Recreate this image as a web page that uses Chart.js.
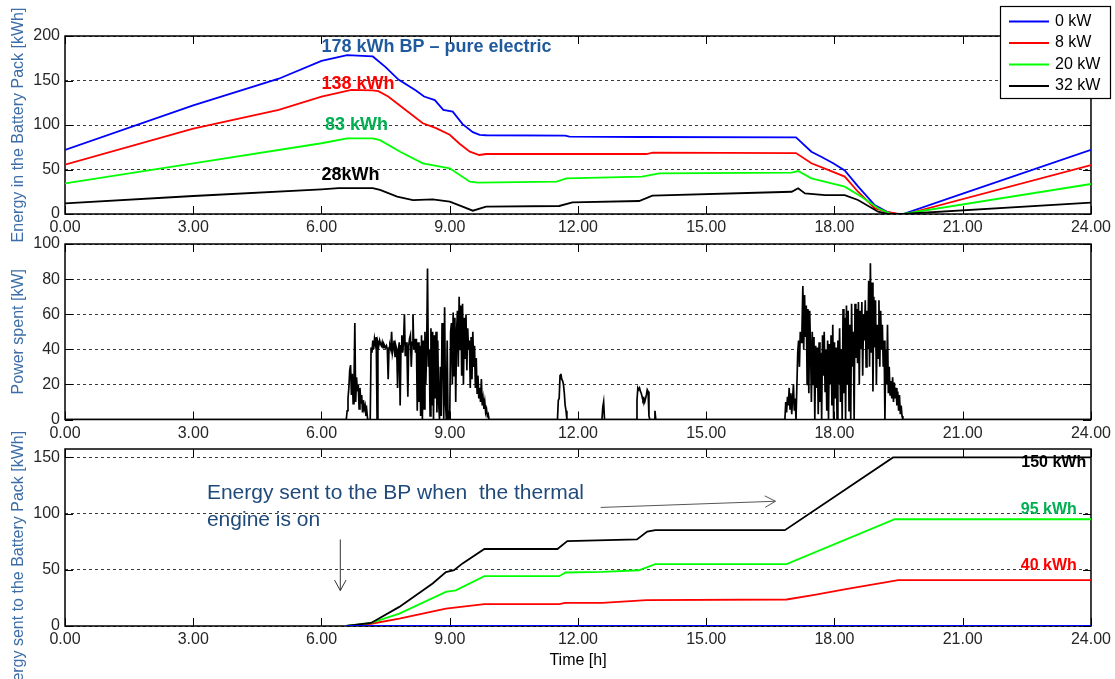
<!DOCTYPE html>
<html>
<head>
<meta charset="utf-8">
<script src="https://cdn.jsdelivr.net/npm/chart.js@4.4.1/dist/chart.umd.min.js"></script>
<style>
html, body { margin: 0; padding: 0; background: #ffffff; }
#wrap { position: relative; width: 1115px; height: 679px; overflow: hidden; background: #ffffff; }
#wrap canvas { position: absolute; left: 0; top: 0; }
</style>
</head>
<body>
<div id="wrap">
  <canvas id="c1" width="1115" height="679"></canvas>
  <canvas id="c2" width="1115" height="679"></canvas>
  <canvas id="c3" width="1115" height="679"></canvas>
</div>
<script>
// ---------------- DATA ----------------
const xTickValues = [0, 3, 6, 9, 12, 15, 18, 21, 24];
const xTickLabels = ['0.00', '3.00', '6.00', '9.00', '12.00', '15.00', '18.00', '21.00', '24.00'];
const yTicksEnergy = [0, 50, 100, 150, 200];
const yTicksPower = [0, 20, 40, 60, 80, 100];
const yTicksSent = [0, 50, 100, 150];

const seriesNames = ['0 kW', '8 kW', '20 kW', '32 kW'];

// Panel 1: energy in the battery pack [kWh]
const bpTime0 = [0, 3, 5, 6, 6.6, 7.2, 7.5, 7.8, 8.2, 8.4, 8.65, 8.85, 9.07, 9.3, 9.54, 9.7, 9.85, 11.7, 11.8, 13.5, 17.1, 17.46, 17.7, 17.97, 18.24, 18.55, 18.94, 19.25, 19.45, 19.64, 21, 24];
const bp0kW   = [72, 122, 152, 172, 178.5, 177, 165, 151, 139, 132, 128, 117, 115, 101, 92, 89, 88.5, 88, 87, 86.5, 86, 70, 64, 57, 49, 31, 10, 2, 0, 0.5, 23, 72];

const bpTime8 = [0, 3, 5, 6, 6.7, 7.2, 7.33, 7.56, 7.87, 8.37, 8.68, 9.0, 9.23, 9.47, 9.69, 9.85, 13.6, 13.75, 17.1, 17.46, 17.85, 18.24, 18.55, 18.94, 19.25, 19.5, 19.68, 24];
const bp8kW   = [55.5, 96, 117, 132, 139.5, 139, 138, 132, 120.5, 102, 96.5, 89, 79, 70, 66.3, 67.4, 67.4, 68.9, 68.5, 57, 49.5, 42, 25, 6.6, 2, 0, 0, 55];

const bpTime20 = [0, 3, 6, 6.6, 7.2, 7.37, 7.84, 8.37, 9.0, 9.47, 9.66, 11.5, 11.73, 13.5, 13.9, 17.0, 17.15, 17.46, 18.24, 18.63, 19.02, 19.33, 19.6, 24];
const bp20kW   = [34.5, 57, 79.5, 85, 85, 83, 70, 57, 51.3, 36.3, 35.2, 36.3, 40, 42, 45.7, 46.4, 48.3, 40, 30.7, 19.4, 6.4, 0, 0, 33.7];

const bpTime32 = [0, 3, 6, 6.4, 7.2, 7.37, 7.77, 8.14, 8.6, 9.0, 9.3, 9.54, 9.85, 11.56, 11.87, 13.43, 13.74, 17.0, 17.15, 17.31, 17.78, 18.24, 18.55, 19.02, 19.25, 19.6, 24];
const bp32kW   = [12, 20.2, 27.7, 29, 29, 27, 19.5, 15.7, 16.4, 13.8, 8.2, 3.7, 8.2, 9, 13.1, 14.6, 20.6, 25, 28.9, 23.2, 21.3, 21.3, 15.7, 2.6, 0, 0, 12.7];

// Panel 2: power spent [kW], sampled every 0.02 h inside each driving burst (zero elsewhere)
const powerSampleStep = 0.02;
const powerMorningStart = 6.58;
const powerMorning = [
  0, 5, 12, 18, 28, 31, 14, 26, 9, 20,
  55, 10, 24, 16, 20, 6, 18, 9, 14, 4,
  11, 6, 8, 2, 5, 0, 0, 0, 0, 41,
  38, 45, 40, 46, 43, 47, 0, 44, 42, 45,
  43, 42, 44, 41, 43, 42, 41, 42, 40, 23,
  41, 42, 40, 50, 38, 41, 45, 36, 42, 40,
  18, 40, 44, 8, 42, 48, 38, 45, 60, 36,
  44, 38, 13, 42, 46, 48, 30, 44, 60, 40,
  46, 38, 46, 5, 44, 10, 42, 2, 48, 0,
  45, 6, 50, 20, 40, 86, 30, 40, 2, 52,
  8, 50, 0, 48, 12, 50, 4, 45, 10, 0,
  30, 2, 55, 40, 0, 64, 10, 0, 45, 0,
  5, 0, 50, 55, 20, 61, 25, 58, 10, 50,
  62, 30, 70, 40, 65, 25, 66, 20, 58, 35,
  60, 28, 52, 40, 45, 18, 47, 23, 50, 30,
  42, 18, 35, 15, 25, 12, 18, 10, 23, 8,
  12, 6, 10, 4, 6, 2, 3, 0, 0, 0
];
const powerNoonAStart = 11.52;
const powerNoonA = [0, 11, 12, 25, 26, 23, 22, 20, 15, 8, 5, 0];
const powerNoonBStart = 12.56;
const powerNoonB = [0, 7, 10, 0];
const powerNoonCStart = 13.36;
const powerNoonC = [0, 11, 18, 17, 18, 16, 15, 13, 11, 12, 10, 12, 14, 17, 16, 2, 0];
const powerNoonDStart = 13.78;
const powerNoonD = [0, 5, 0];
const powerEveningStart = 16.84;
const powerEvening = [
  0, 10, 4, 13, 8, 18, 6, 15, 3, 12,
  20, 5, 12, 0, 0, 38, 45, 30, 50, 44,
  52, 76, 40, 71, 47, 65, 20, 63, 15, 62,
  41, 10, 50, 20, 47, 0, 42, 18, 41, 3,
  44, 10, 38, 0, 48, 25, 50, 16, 40, 5,
  45, 0, 43, 20, 48, 8, 54, 0, 44, 12,
  41, 0, 45, 20, 52, 10, 40, 0, 63, 15,
  58, 0, 65, 20, 62, 5, 54, 0, 66, 30,
  50, 0, 66, 35, 63, 32, 67, 20, 62, 40,
  67, 25, 60, 45, 68, 30, 62, 40, 79, 30,
  89, 38, 78, 16, 70, 41, 68, 20, 54, 35,
  68, 30, 62, 40, 54, 30, 45, 0, 40, 20,
  54, 15, 30, 14, 22, 12, 24, 10, 21, 12,
  18, 8, 16, 5, 14, 3, 8, 2, 0, 0
];

// Panel 3: energy sent to the battery pack [kWh]
const sentTime0 = [6.58, 24];
const sent0kW   = [0, 0];
const sentTime8 = [6.58, 7.16, 7.82, 8.91, 9.81, 11.56, 11.7, 12.57, 13.6, 16.88, 17.5, 18.3, 19.49, 24];
const sent8kW   = [0, 2, 6.6, 15.5, 19.4, 19.4, 20.5, 20.6, 23, 23.6, 27.5, 33, 40.8, 40.8];
const sentTime20 = [6.58, 7.16, 7.82, 8.91, 9.14, 9.81, 11.56, 11.71, 12.57, 13.42, 13.81, 16.88, 19.41, 24];
const sent20kW   = [0, 2.7, 11, 30.3, 31.8, 44.3, 44.3, 47.6, 48.1, 49.6, 55, 55, 95, 95];
const sentTime32 = [6.58, 7.16, 7.82, 8.6, 8.91, 9.1, 9.3, 9.81, 11.52, 11.75, 13.38, 13.62, 13.81, 16.84, 19.37, 24];
const sent32kW   = [0, 2.7, 17, 37.8, 48, 49.7, 55.7, 68.5, 68.5, 75.5, 77, 84, 85.3, 85.3, 150, 150];

// Text annotations (anchored in data coordinates: time [h], value)
const energyLabelTexts = ['178 kWh BP \u2013 pure electric', '138 kWh', '83 kWh', '28kWh'];
const energyLabelAt = [[6.0, 187.5], [6.0, 146.5], [6.08, 99.5], [6.0, 43.5]];
const sentLabelTexts = ['150 kWh', '95 kWh', '40 kWh'];
const sentLabelAt = [[22.37, 145], [22.36, 104], [22.36, 54]];
const noteLines = ['Energy sent to the BP when  the thermal', 'engine is on'];
const noteAt = [[3.32, 118], [3.32, 94]];

// ---------------- STYLE ----------------
const FONT = "'Liberation Sans', Arial, Helvetica, sans-serif";
Chart.defaults.font.family = FONT;
Chart.defaults.color = '#262626';
const seriesColors = ['#0000ff', '#ff0000', '#00ff00', '#000000'];
const energyLabelColors = ['#1f5a9c', '#ff0000', '#00b050', '#000000'];
const sentLabelColors = ['#000000', '#00b050', '#ff0000'];
const titleBlue = '#3d6da6';

function pts(t, v) { return t.map((x, i) => ({ x: x, y: v[i] })); }

function powerPoints() {
  const bursts = [
    [powerMorningStart, powerMorning], [powerNoonAStart, powerNoonA], [powerNoonBStart, powerNoonB],
    [powerNoonCStart, powerNoonC], [powerNoonDStart, powerNoonD], [powerEveningStart, powerEvening]
  ];
  const out = [{ x: 0, y: 0 }];
  bursts.forEach(([s, vals]) => vals.forEach((v, i) => out.push({ x: +(s + i * powerSampleStep).toFixed(3), y: v })));
  out.push({ x: 24, y: 0 });
  return out;
}

function lineDs(label, data, color, width, order) {
  return { label, data, borderColor: color, backgroundColor: color, borderWidth: width,
           pointRadius: 0, tension: 0, fill: false, order };
}

function xScale(withTitle) {
  return {
    type: 'linear', min: 0, max: 24,
    afterBuildTicks: s => { s.ticks = xTickValues.map(v => ({ value: v })); },
    ticks: { callback: v => xTickLabels[xTickValues.indexOf(v)], font: { size: 16 }, color: '#262626',
             padding: 4, maxRotation: 0, autoSkip: false },
    grid: { display: false, drawTicks: false },
    border: { display: false },
    title: withTitle ? { display: true, text: 'Time [h]', color: '#000', font: { size: 16 }, padding: { top: 0, bottom: 9 } }
                     : { display: false },
    afterFit: s => { s.height = withTitle ? 53 : 30; }
  };
}

function yScale(min, max, tickVals, titleText) {
  return {
    type: 'linear', min, max,
    afterBuildTicks: s => { s.ticks = tickVals.map(v => ({ value: v })); },
    ticks: { font: { size: 16 }, color: '#262626', padding: 5 },
    grid: { color: '#3a3a3a', lineWidth: 1, drawTicks: false },
    border: { display: false, dash: [3, 3] },
    title: titleText ? { display: true, text: titleText, color: titleBlue, font: { size: 16 }, padding: { top: 9, bottom: 0 } }
                     : { display: false },
    afterFit: s => { s.width = 65; }
  };
}

function framePlugin(extra) {
  return {
    id: 'frame',
    beforeDatasetsDraw(chart) {
      const { ctx, chartArea: a } = chart;
      const xs = chart.scales.x, ys = chart.scales.y;
      ctx.save();
      ctx.strokeStyle = '#000';
      ctx.lineWidth = 1;
      ctx.beginPath();
      xs.ticks.forEach(t => {
        const p = Math.round(xs.getPixelForValue(t.value)) + 0.5;
        ctx.moveTo(p, a.top); ctx.lineTo(p, a.top + 8);
        ctx.moveTo(p, a.bottom); ctx.lineTo(p, a.bottom - 8);
      });
      ys.ticks.forEach(t => {
        const p = Math.round(ys.getPixelForValue(t.value)) + 0.5;
        ctx.moveTo(a.left, p); ctx.lineTo(a.left + 8, p);
        ctx.moveTo(a.right, p); ctx.lineTo(a.right - 8, p);
      });
      ctx.stroke();
      ctx.lineWidth = 1.5;
      ctx.strokeRect(a.left, a.top, a.right - a.left, a.bottom - a.top);
      ctx.restore();
    },
    afterDraw(chart) { if (extra) extra(chart); }
  };
}

function drawTexts(chart, texts, anchors, colors, font) {
  const { ctx } = chart; const xs = chart.scales.x, ys = chart.scales.y;
  ctx.save();
  ctx.textAlign = 'left'; ctx.textBaseline = 'middle';
  texts.forEach((txt, i) => {
    ctx.font = font; ctx.fillStyle = Array.isArray(colors) ? colors[i] : colors;
    ctx.fillText(txt, xs.getPixelForValue(anchors[i][0]), ys.getPixelForValue(anchors[i][1]));
  });
  ctx.restore();
}

function drawArrow(chart, t1, v1, t2, v2, color) {
  const { ctx } = chart; const xs = chart.scales.x, ys = chart.scales.y;
  const x1 = xs.getPixelForValue(t1), y1 = ys.getPixelForValue(v1);
  const x2 = xs.getPixelForValue(t2), y2 = ys.getPixelForValue(v2);
  const ang = Math.atan2(y2 - y1, x2 - x1), L = 12, sp = 0.5;
  ctx.save();
  ctx.strokeStyle = color; ctx.lineWidth = 1;
  ctx.beginPath();
  ctx.moveTo(x1, y1); ctx.lineTo(x2, y2);
  ctx.moveTo(x2 - L * Math.cos(ang - sp), y2 - L * Math.sin(ang - sp)); ctx.lineTo(x2, y2);
  ctx.lineTo(x2 - L * Math.cos(ang + sp), y2 - L * Math.sin(ang + sp));
  ctx.stroke();
  ctx.restore();
}

function drawLegend(chart) {
  const { ctx } = chart;
  ctx.save();
  ctx.fillStyle = '#fff'; ctx.fillRect(1000, 6, 110, 92);
  ctx.strokeStyle = '#000'; ctx.lineWidth = 1.2; ctx.strokeRect(1000.5, 6.5, 110, 92);
  seriesNames.forEach((name, i) => {
    const y = 21.5 + i * 21.5;
    ctx.strokeStyle = seriesColors[i]; ctx.lineWidth = 1.8;
    ctx.beginPath(); ctx.moveTo(1009, y); ctx.lineTo(1049, y); ctx.stroke();
    ctx.fillStyle = '#000'; ctx.font = '16px ' + FONT; ctx.textAlign = 'left'; ctx.textBaseline = 'middle';
    ctx.fillText(name, 1055, y);
  });
  ctx.restore();
}

const common = (padTop, padBottom) => ({
  responsive: false, animation: false, events: [],
  layout: { padding: { left: 0, right: 22, top: padTop, bottom: padBottom } },
  plugins: { legend: { display: false }, tooltip: { enabled: false } }
});

// ---------------- CHART 1 ----------------
new Chart(document.getElementById('c1'), {
  type: 'line',
  data: { datasets: [
    lineDs(seriesNames[0], pts(bpTime0, bp0kW), seriesColors[0], 1.8, 3),
    lineDs(seriesNames[1], pts(bpTime8, bp8kW), seriesColors[1], 1.8, 2),
    lineDs(seriesNames[2], pts(bpTime20, bp20kW), seriesColors[2], 1.8, 1),
    lineDs(seriesNames[3], pts(bpTime32, bp32kW), seriesColors[3], 1.8, 0)
  ] },
  options: Object.assign(common(36, 679 - 214 - 30), {
    scales: { x: xScale(false), y: yScale(0, 200, yTicksEnergy, 'Energy in the Battery Pack [kWh]') }
  }),
  plugins: [framePlugin(chart => {
    drawTexts(chart, energyLabelTexts, energyLabelAt, energyLabelColors, 'bold 18px ' + FONT);
    drawLegend(chart);
  })]
});

// ---------------- CHART 2 ----------------
new Chart(document.getElementById('c2'), {
  type: 'line',
  data: { datasets: [ lineDs('Power spent', powerPoints(), '#000000', 1.7, 0) ] },
  options: Object.assign(common(244, 679 - 419.5 - 30), {
    scales: { x: xScale(false), y: yScale(0, 100, yTicksPower, 'Power spent [kW]') }
  }),
  plugins: [framePlugin(null)]
});

// ---------------- CHART 3 ----------------
new Chart(document.getElementById('c3'), {
  type: 'line',
  data: { datasets: [
    lineDs(seriesNames[0], pts(sentTime0, sent0kW), seriesColors[0], 1.8, 0),
    lineDs(seriesNames[1], pts(sentTime8, sent8kW), seriesColors[1], 1.8, 3),
    lineDs(seriesNames[2], pts(sentTime20, sent20kW), seriesColors[2], 1.8, 2),
    lineDs(seriesNames[3], pts(sentTime32, sent32kW), seriesColors[3], 1.8, 1)
  ] },
  options: Object.assign(common(449, 0), {
    scales: { x: xScale(true), y: yScale(0, 157.5, yTicksSent, null) }
  }),
  plugins: [framePlugin(chart => {
    drawTexts(chart, sentLabelTexts, sentLabelAt, sentLabelColors, 'bold 16px ' + FONT);
    drawTexts(chart, noteLines, noteAt, '#1f4a7a', '21px ' + FONT);
    drawArrow(chart, 6.44, 77, 6.44, 31.5, '#333333');
    drawArrow(chart, 12.53, 105.5, 16.62, 111, '#555555');
    const { ctx } = chart;
    ctx.save();
    ctx.translate(18.8, 566);
    ctx.rotate(-Math.PI / 2);
    ctx.fillStyle = titleBlue; ctx.font = '16px ' + FONT;
    ctx.textAlign = 'center'; ctx.textBaseline = 'middle';
    ctx.fillText('Energy sent to the Battery Pack [kWh]', 0, 0);
    ctx.restore();
  })]
});
</script>
</body>
</html>
